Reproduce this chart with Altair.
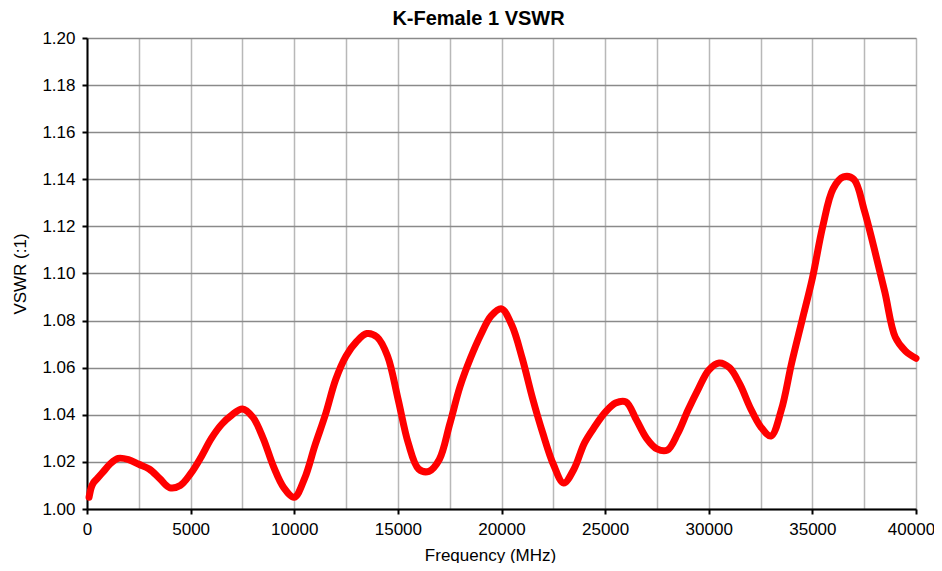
import altair as alt
import pandas as pd

freq_mhz = [100, 200, 300, 500, 800, 1100, 1500, 2000, 2500, 3000, 3500, 4000, 4500, 5000,
            5500, 6000, 6500, 7000, 7500, 8000, 8500, 9000, 9500, 10000, 10500, 11000, 11500,
            12000, 12500, 13000, 13500, 14000, 14500, 15000, 15500, 16000, 16500, 17000, 17500,
            18000, 18500, 19000, 19500, 20000, 20500, 21000, 21500, 22000, 22500, 23000, 23500,
            24000, 24500, 25000, 25500, 26000, 26500, 27000, 27500, 28000, 28500, 29000, 29500,
            30000, 30500, 31000, 31500, 32000, 32500, 33000, 33500, 34000, 34500, 35000, 35500,
            36000, 36500, 37000, 37500, 38000, 38500, 39000, 39500, 40000]
vswr = [1.005, 1.009, 1.011, 1.013, 1.016, 1.019, 1.0215, 1.021, 1.019, 1.017, 1.013, 1.009, 1.010, 1.015,
        1.022, 1.030, 1.036, 1.040, 1.0425, 1.039, 1.030, 1.018, 1.009, 1.005, 1.013, 1.027, 1.040,
        1.055, 1.065, 1.071, 1.0745, 1.073, 1.065, 1.047, 1.028, 1.017, 1.016, 1.021, 1.036,
        1.052, 1.064, 1.074, 1.082, 1.085, 1.078, 1.064, 1.047, 1.032, 1.019, 1.011, 1.017,
        1.028, 1.035, 1.041, 1.045, 1.0455, 1.038, 1.030, 1.0255, 1.025, 1.032, 1.042, 1.051,
        1.059, 1.062, 1.060, 1.053, 1.043, 1.035, 1.031, 1.042, 1.062, 1.080, 1.098, 1.120,
        1.136, 1.141, 1.140, 1.127, 1.110, 1.092, 1.073, 1.067, 1.064]

x_grid_values = list(range(0, 40001, 2500))
y_tick_values = [1.00, 1.02, 1.04, 1.06, 1.08, 1.10, 1.12, 1.14, 1.16, 1.18, 1.20]

df = pd.DataFrame({"freq": freq_mhz, "vswr": vswr})

FONT = "Liberation Sans"

chart = alt.Chart(df).mark_line(
    color="#ff0000", strokeWidth=7, interpolate="catmull-rom", strokeCap="round", strokeJoin="round"
).encode(
    x=alt.X("freq:Q", title="Frequency (MHz)",
            scale=alt.Scale(domain=[0, 40000], nice=False, zero=False),
            axis=alt.Axis(values=x_grid_values, format="d",
                          labelExpr="datum.value % 5000 === 0 ? datum.label : ''",
                          tickOpacity={"condition": {"test": "datum.value % 5000 === 0", "value": 1}, "value": 0},
                          labelOffset={"condition": {"test": "datum.value >= 40000", "value": -5}, "value": 0},
                          grid=True, gridColor="#b8b8b8", gridWidth=1.5,
                          labelFlush=False, labelOverlap=False,
                          tickSize=5, tickColor="black", tickWidth=2,
                          domainColor="black", domainWidth=2,
                          labelFont=FONT, labelFontSize=17, labelColor="black", labelPadding=7,
                          titleFont=FONT, titleFontSize=17, titleFontWeight="normal",
                          titleColor="black", titlePadding=10, titleX=403)),
    y=alt.Y("vswr:Q", title="VSWR (:1)",
            scale=alt.Scale(domain=[1.0, 1.2], nice=False, zero=False),
            axis=alt.Axis(values=y_tick_values, format=".2f",
                          grid=True, gridColor="#8a8a8a", gridWidth=1.5,
                          labelFlush=False, labelOverlap=False,
                          tickSize=5, tickColor="black", tickWidth=2,
                          domainColor="black", domainWidth=2,
                          labelFont=FONT, labelFontSize=17, labelColor="black", labelPadding=7,
                          titleFont=FONT, titleFontSize=17, titleFontWeight="normal",
                          titleColor="black", titlePadding=12)),
).properties(
    width=829, height=471,
    title=alt.TitleParams("K-Female 1 VSWR", font=FONT, fontSize=20, fontWeight="bold",
                          color="black", anchor="middle", offset=0, dx=-23),
    autosize=alt.AutoSizeParams(type="none"),
    padding={"left": 79, "top": 30, "right": 18, "bottom": 54},
).configure_view(
    stroke="black", strokeWidth=2
).configure(background="white")

chart.save("out.html", embed_options={"renderer": "svg", "actions": False})
